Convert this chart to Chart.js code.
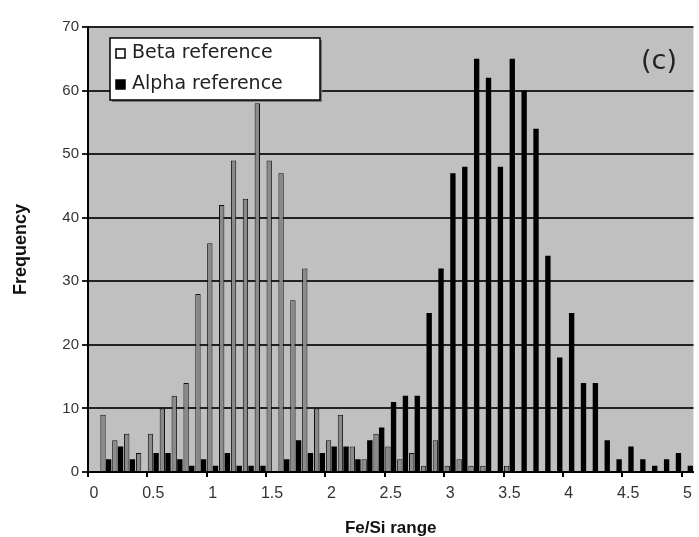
<!DOCTYPE html>
<html>
<head>
<meta charset="utf-8">
<script src="https://cdn.jsdelivr.net/npm/chart.js@4.4.1/dist/chart.umd.min.js"></script>
<style>
  html, body { margin: 0; padding: 0; background: #fff; overflow: hidden; }
</style>
</head>
<body>
<canvas id="myChart" width="699" height="537"></canvas>
<script>
// classes de Fe/Si (0 a 5, passo 0.1)
const categorias = ['0', '0.1', '0.2', '0.3', '0.4', '0.5', '0.6', '0.7', '0.8', '0.9',
    '1', '1.1', '1.2', '1.3', '1.4', '1.5', '1.6', '1.7', '1.8', '1.9',
    '2', '2.1', '2.2', '2.3', '2.4', '2.5', '2.6', '2.7', '2.8', '2.9',
    '3', '3.1', '3.2', '3.3', '3.4', '3.5', '3.6', '3.7', '3.8', '3.9',
    '4', '4.1', '4.2', '4.3', '4.4', '4.5', '4.6', '4.7', '4.8', '4.9', '5'];

const betaRef = [0, 9, 5, 6, 3, 6, 10, 12, 14, 28,
    36, 42, 49, 43, 58, 49, 47, 27, 32, 10,
    5, 9, 4, 2, 6, 4, 2, 3, 1, 5,
    1, 2, 1, 1, 0, 1, 0, 0, 0, 0,
    0, 0, 0, 0, 0, 0, 0, 0, 0, 0, 0];

const alphaRef = [0, 2, 4, 2, 0, 3, 3, 2, 1, 2,
    1, 3, 1, 1, 1, 0, 2, 5, 3, 3,
    4, 4, 2, 5, 7, 11, 12, 12, 25, 32,
    47, 48, 65, 62, 48, 65, 60, 54, 34, 18,
    25, 14, 14, 5, 2, 4, 2, 1, 2, 3, 1];

// rotulos mostrados no eixo x
const rotulosX = ['0', '0.5', '1', '1.5', '2', '2.5', '3', '3.5', '4', '4.5', '5'];

const fundoPlot = {
    id: 'fundoPlot',
    beforeDraw(chart) {
        const {ctx, chartArea: a} = chart;
        ctx.save();
        ctx.fillStyle = '#c0c0c0';
        ctx.fillRect(a.left, a.top, a.right - a.left, a.bottom - a.top);
        ctx.restore();
    }
};

// legenda dentro da area do grafico + "(c)"
const legendaInterna = {
    id: 'legendaInterna',
    afterDraw(chart) {
        const ctx = chart.ctx;
        const x0 = 110, y0 = 38, w = 210, h = 62;
        ctx.save();
        ctx.fillStyle = '#777';
        ctx.fillRect(x0 + 2, y0 + 2, w, h);
        ctx.fillStyle = '#fff';
        ctx.fillRect(x0, y0, w, h);
        ctx.strokeStyle = '#000';
        ctx.lineWidth = 1.5;
        ctx.strokeRect(x0, y0, w, h);
        ctx.font = '19px "DejaVu Sans", sans-serif';
        ctx.textBaseline = 'middle';
        chart.data.datasets.forEach((ds, i) => {
            const yy = y0 + 15 + i * 31;
            ctx.fillStyle = ds.legendFill;
            ctx.fillRect(x0 + 6, yy - 4, 9, 9);
            ctx.strokeStyle = '#000';
            ctx.lineWidth = 1.5;
            ctx.strokeRect(x0 + 6, yy - 4, 9, 9);
            ctx.fillStyle = '#222';
            ctx.fillText(ds.label, x0 + 22, yy);
        });
        ctx.font = '27px "DejaVu Sans", sans-serif';
        ctx.textAlign = 'center';
        ctx.fillStyle = '#222';
        ctx.fillText('(c)', 659, 62);
        ctx.restore();
    }
};

const ctx = document.getElementById('myChart').getContext('2d');
const myChart = new Chart(ctx, {
    type: 'bar',
    data: {
        labels: categorias,
        datasets: [{
            label: 'Beta reference',
            data: betaRef,
            backgroundColor: '#8a8a8a',
            borderColor: '#111',
            borderWidth: 1,
            legendFill: '#fff',
            categoryPercentage: 0.95,
            barPercentage: 0.95
        }, {
            label: 'Alpha reference',
            data: alphaRef,
            backgroundColor: '#000',
            borderWidth: 0,
            legendFill: '#000',
            categoryPercentage: 0.95,
            barPercentage: 0.95
        }]
    },
    options: {
        responsive: false,
        animation: false,
        layout: { padding: { left: 0, top: 27, right: 2.5, bottom: 0 } },
        plugins: {
            legend: { display: false },
            tooltip: { enabled: false }
        },
        scales: {
            x: {
                afterFit: (s) => { s.height = 65; },
                grid: {
                    drawOnChartArea: false,
                    drawTicks: true,
                    tickLength: 5,
                    lineWidth: 2,
                    color: (c) => (c.index % 5 === 0 ? '#000' : 'rgba(0,0,0,0)')
                },
                border: { display: true, color: '#000', width: 2 },
                ticks: {
                    autoSkip: false,
                    maxRotation: 0,
                    padding: 7,
                    color: '#333',
                    font: { family: '"Liberation Sans", Arial, sans-serif', size: 16 },
                    callback: function (val) {
                        const lbl = this.getLabelForValue(val);
                        return rotulosX.includes(lbl) ? lbl : '';
                    }
                },
                title: {
                    display: true,
                    text: 'Fe/Si range',
                    color: '#111',
                    padding: { top: 0, bottom: -2 },
                    font: { family: '"Liberation Sans", Arial, sans-serif', size: 17, weight: 'bold' }
                }
            },
            y: {
                min: 0,
                max: 70,
                afterFit: (s) => { s.width = 88; },
                grid: {
                    color: '#222',
                    lineWidth: 2,
                    tickLength: 6
                },
                border: { display: true, color: '#000', width: 2 },
                ticks: {
                    stepSize: 10,
                    padding: 3,
                    color: '#333',
                    font: { family: '"Liberation Sans", Arial, sans-serif', size: 15 }
                },
                title: {
                    display: true,
                    text: 'Frequency',
                    color: '#111',
                    padding: { top: 10, bottom: 0 },
                    font: { family: '"Liberation Sans", Arial, sans-serif', size: 18, weight: 'bold' }
                }
            }
        }
    },
    plugins: [fundoPlot, legendaInterna]
});
</script>
</body>
</html>
